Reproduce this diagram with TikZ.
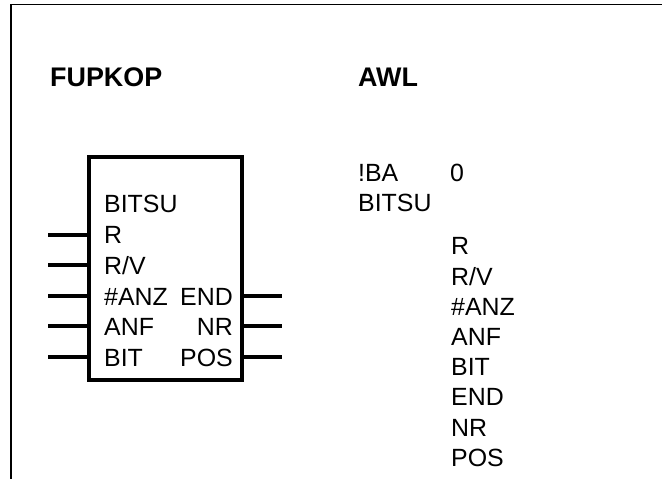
\documentclass[tikz,border=0pt]{standalone}
\usepackage{fontspec}
\setmainfont{Liberation Sans}
\usetikzlibrary{positioning}
\tikzset{
  lbl/.style={font=\fontsize{25}{30}\selectfont,inner sep=0pt,text height=18bp,text depth=0bp},
  ttl/.style={lbl,font=\fontsize{27}{30}\selectfont\bfseries,text height=19bp},
  fblock/.style={draw,line width=3.5bp,inner sep=0pt,minimum width=153bp,minimum height=223bp},
  pin/.style={line width=3.5bp},
  frame/.style={line width=1.5bp},
}

\begin{document}
\begin{tikzpicture}[x=1bp,y=-1bp]
    \useasboundingbox (0,0) rectangle (662,479);
    % Frame
    \coordinate (fTL) at (11,4.5);
    \coordinate (fTR) at (662,4.5);
    \coordinate (fBL) at (11,479);
    \draw[frame] (fTR) -- (fTL) -- (fBL);
    % Titles
    \node[ttl,anchor=west] (tFUP) at (50,77) {FUPKOP};
    \node[ttl,anchor=west] (tAWL) at (358,77) {AWL};
    % Function block
    \node[fblock] (blk) at (165.5,268.5) {};
    \node[lbl,anchor=west] (iBITSU) at (104,204) {BITSU};
    \node[lbl,anchor=west] (iR)     at (104,235) {R};
    \node[lbl,anchor=west] (iRV)    at (104,265) {R/V};
    \node[lbl,anchor=west] (iANZ)   at (104,296) {\#ANZ};
    \node[lbl,anchor=west] (iANF)   at (104,326) {ANF};
    \node[lbl,anchor=west] (iBIT)   at (104,357) {BIT};
    \node[lbl,anchor=east] (oEND)   at (233,296) {END};
    \node[lbl,anchor=east] (oNR)    at (233,326) {NR};
    \node[lbl,anchor=east] (oPOS)   at (233,357) {POS};
    % Input pins
    \foreach \n in {iR,iRV,iANZ,iANF,iBIT}{
      \coordinate (p\n) at (48,0 |- \n);
      \draw[pin] (p\n) -- (p\n -| blk.west);
    }
    % Output pins
    \foreach \n in {oEND,oNR,oPOS}{
      \coordinate (p\n) at (282,0 |- \n);
      \draw[pin] (p\n -| blk.east) -- (p\n);
    }
    % Statement list
    \node[lbl,anchor=west] (aBA)    at (358,173) {!BA};
    \node[lbl,anchor=west] (aNull)  at (450,173) {0};
    \node[lbl,anchor=west] (aBITSU) at (358,203) {BITSU};
    \node[lbl,anchor=west] (aR)     at (451,246) {R};
    \node[lbl,anchor=west] (aRV)    at (451,276) {R/V};
    \node[lbl,anchor=west] (aANZ)   at (451,306) {\#ANZ};
    \node[lbl,anchor=west] (aANF)   at (451,336) {ANF};
    \node[lbl,anchor=west] (aBIT)   at (451,366) {BIT};
    \node[lbl,anchor=west] (aEND)   at (451,396) {END};
    \node[lbl,anchor=west] (aNR)    at (451,427) {NR};
    \node[lbl,anchor=west] (aPOS)   at (451,457) {POS};
\end{tikzpicture}
\end{document}
